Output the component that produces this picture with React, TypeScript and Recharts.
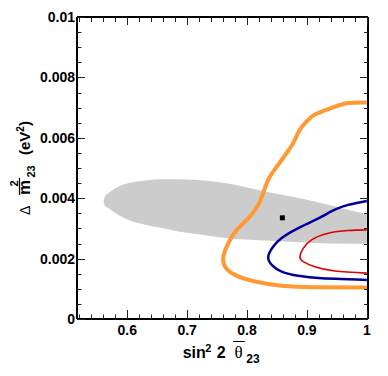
import { ComposedChart, Area, Scatter, XAxis, YAxis } from "recharts";

// grey allowed region: lower / upper edge for each sin^2 value
const bandX = [0.5605, 0.5625, 0.5688, 0.58, 0.602, 0.63, 0.658, 0.685, 0.713, 0.763, 0.83, 0.913, 0.968, 1.0];
const bandLow = [0.00389, 0.00375, 0.00367, 0.00351, 0.00328, 0.00312, 0.00301, 0.0029, 0.00282, 0.00268, 0.0026, 0.00252, 0.00249, 0.00249];
const bandHigh = [0.00389, 0.00406, 0.00417, 0.00433, 0.0045, 0.00459, 0.00463, 0.00463, 0.00461, 0.0045, 0.00422, 0.00389, 0.00362, 0.00348];

// orange contour (outer)
const orangeX = [1.0, 0.9688, 0.9412, 0.9133, 0.8995, 0.8883, 0.8772, 0.8662, 0.8522, 0.8383, 0.8288, 0.8188, 0.8022, 0.7828, 0.7688, 0.7605, 0.7633, 0.78, 0.8133, 0.8578, 0.9133, 1.0];
const orangeY = [0.00717, 0.00715, 0.00699, 0.00677, 0.00654, 0.00627, 0.00583, 0.0055, 0.00511, 0.00472, 0.00428, 0.00378, 0.00334, 0.00295, 0.00251, 0.00207, 0.00173, 0.00146, 0.00124, 0.0011, 0.00105, 0.00104];

// blue contour
const blueX = [1.0, 0.9688, 0.9467, 0.9245, 0.9022, 0.88, 0.8578, 0.8438, 0.8355, 0.8412, 0.8578, 0.8855, 0.9245, 0.9688, 1.0];
const blueY = [0.00391, 0.00378, 0.00362, 0.00339, 0.00317, 0.00295, 0.00268, 0.0024, 0.00207, 0.00179, 0.00157, 0.00143, 0.00135, 0.00132, 0.00129];

// red contour (inner)
const redX = [1.0, 0.9688, 0.9355, 0.9078, 0.8938, 0.8883, 0.8938, 0.9133, 0.9467, 1.0];
const redY = [0.00295, 0.00293, 0.00284, 0.00262, 0.00234, 0.00207, 0.0019, 0.00173, 0.00159, 0.00152];

// best fit
const bestX = [0.859];
const bestY = [0.00335];

const xMajor = [0.6, 0.7, 0.8, 0.9, 1.0];
const xTickLabels = ["0.6", "0.7", "0.8", "0.9", "1"];
const yMajor = [0, 0.002, 0.004, 0.006, 0.008, 0.01];
const yTickLabels = ["0", "0.002", "0.004", "0.006", "0.008", "0.01"];

const xTicks = Array.from({ length: 25 }, (_, i) => +(0.52 + i * 0.02).toFixed(2));
const yTicks = Array.from({ length: 21 }, (_, i) => +(i * 0.0005).toFixed(4));

const bandData = bandX.map((x, i) => ({ x, range: [bandLow[i], bandHigh[i]] }));
const toPts = (xs: number[], ys: number[]) => xs.map((x, i) => ({ x, y: ys[i] }));

const FONT = "'Liberation Sans', Arial, Helvetica, sans-serif";
const TICK = "#222";

// chart box
const W = 380;
const H = 360;
const LEFT_W = 69;
const RIGHT_W = 20;
const TOP_H = 9;
const BOTTOM_H = 49;
const PLOT_W = W - LEFT_W - RIGHT_W;
const PLOT_H = H - TOP_H - BOTTOM_H;

const majorIndex = (v: number, list: number[]) => list.findIndex((m) => Math.abs(m - v) < 1e-7);
const crisp = (v: number) => Math.round(v) + 0.5;

// bottom ticks + mirrored top ticks (pointing inward)
const BottomTick = (props: any) => {
  const { x, y, payload } = props;
  const idx = majorIndex(payload.value, xMajor);
  const cx = crisp(x);
  const top = y - PLOT_H;
  return (
    <g>
      <line x1={cx} x2={cx} y1={y} y2={y - (idx >= 0 ? 9 : 4.5)} stroke={TICK} strokeWidth={1} />
      <line x1={cx} x2={cx} y1={top} y2={top + (idx >= 0 ? 8 : 5)} stroke={TICK} strokeWidth={1} />
      {idx >= 0 && (
        <text x={x} y={y + 16} textAnchor="middle" fontSize={14} fontWeight="bold" fontFamily={FONT} fill="#000">
          {xTickLabels[idx]}
        </text>
      )}
    </g>
  );
};

// left ticks + mirrored right ticks
const LeftTick = (props: any) => {
  const { x, y, payload } = props;
  const idx = majorIndex(payload.value, yMajor);
  const cy = crisp(y);
  const right = x + PLOT_W;
  return (
    <g>
      <line x1={x} x2={x + (idx >= 0 ? 8 : 4.5)} y1={cy} y2={cy} stroke={TICK} strokeWidth={1} />
      <line x1={right} x2={right - (idx >= 0 ? 8 : 4)} y1={cy} y2={cy} stroke={TICK} strokeWidth={1} />
      {idx >= 0 && (
        <text x={x - 2} y={y + 5} textAnchor="end" fontSize={14} fontWeight="bold" fontFamily={FONT} fill="#000">
          {yTickLabels[idx]}
        </text>
      )}
    </g>
  );
};

const XTitle = () => (
  <g fontFamily={FONT} fontWeight="bold" fill="#000">
    <text x={174.7} y={349.7} fontSize={16}>sin</text>
    <text x={197.3} y={344} fontSize={11}>2</text>
    <text x={208.7} y={349.7} fontSize={16}>2</text>
    <line x1={225} x2={236.7} y1={333.5} y2={333.5} stroke="#000" strokeWidth={1} />
    <text x={226.5} y={349.7} fontSize={17} fontWeight="normal" fontFamily="'Liberation Serif', 'Times New Roman', serif">θ</text>
    <text x={238.3} y={354.5} fontSize={12}>23</text>
  </g>
);

const YTitle = () => (
  <g transform="rotate(-90)" fontFamily={FONT} fontWeight="bold" fill="#000">
    <text x={-207} y={21.7} fontSize={14} fontWeight="normal">Δ</text>
    <line x1={-187} x2={-170} y1={11.5} y2={11.5} stroke="#000" strokeWidth={1.2} />
    <text x={-187} y={21.7} fontSize={17}>m</text>
    <text x={-178.5} y={9.5} fontSize={11}>2</text>
    <text x={-169.5} y={27} fontSize={11}>23</text>
    <text x={-147} y={21.7} fontSize={15}>
      (eV<tspan dy={-6} fontSize={10}>2</tspan>
      <tspan dy={6}>)</tspan>
    </text>
  </g>
);

const NoDot = () => <g />;

const BestFit = (props: any) => {
  const { cx, cy } = props;
  return <rect x={cx - 2.5} y={cy - 2.5} width={5} height={5} fill="#000" />;
};

const axisLine = { stroke: "#000", strokeWidth: 2 };

const App = () => {
  return (
    <ComposedChart width={W} height={H} data={bandData} margin={{ top: 0, right: 0, bottom: 0, left: 0 }}>
      <Area dataKey="range" type="monotone" stroke="none" fill="#cccccc" fillOpacity={1} isAnimationActive={false} />
      <Scatter data={toPts(orangeX, orangeY)} line={{ stroke: "#ff9933", strokeWidth: 4 }} lineJointType="natural" shape={NoDot} isAnimationActive={false} />
      <Scatter data={toPts(blueX, blueY)} line={{ stroke: "#000099", strokeWidth: 2.5 }} lineJointType="natural" shape={NoDot} isAnimationActive={false} />
      <Scatter data={toPts(redX, redY)} line={{ stroke: "#dd0000", strokeWidth: 1.6 }} lineJointType="natural" shape={NoDot} isAnimationActive={false} />
      <Scatter data={toPts(bestX, bestY)} shape={BestFit} isAnimationActive={false} />
      <XAxis
        xAxisId="top"
        dataKey="x"
        orientation="top"
        type="number"
        domain={[0.516, 1.002]}
        allowDataOverflow
        tick={false}
        tickLine={false}
        axisLine={axisLine}
        height={TOP_H}
      />
      <YAxis
        yAxisId="right"
        dataKey="y"
        orientation="right"
        type="number"
        domain={[0, 0.01]}
        allowDataOverflow
        tick={false}
        tickLine={false}
        axisLine={axisLine}
        width={RIGHT_W}
      />
      <XAxis
        dataKey="x"
        type="number"
        domain={[0.516, 1.002]}
        allowDataOverflow
        ticks={xTicks}
        interval={0}
        tick={BottomTick}
        tickLine={false}
        tickSize={0}
        tickMargin={0}
        axisLine={axisLine}
        height={BOTTOM_H}
        label={{ content: XTitle }}
      />
      <YAxis
        dataKey="y"
        type="number"
        domain={[0, 0.01]}
        allowDataOverflow
        ticks={yTicks}
        interval={0}
        tick={LeftTick}
        tickLine={false}
        tickSize={0}
        tickMargin={0}
        axisLine={axisLine}
        width={LEFT_W}
        label={{ content: YTitle }}
      />
      <Scatter xAxisId="top" yAxisId="right" data={toPts(bestX, bestY)} shape={NoDot} isAnimationActive={false} />
    </ComposedChart>
  );
};

export default App;
